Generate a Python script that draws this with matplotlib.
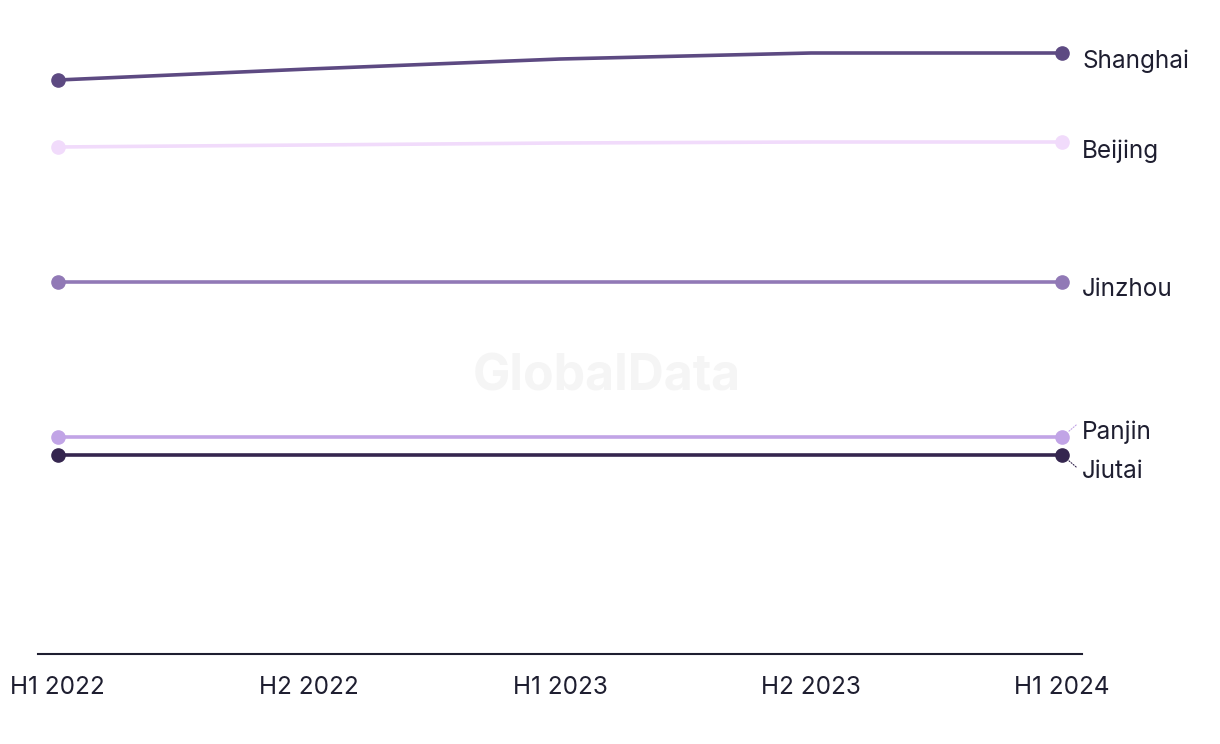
import matplotlib.pyplot as plt

periods = ['H1 2022', 'H2 2022', 'H1 2023', 'H2 2023', 'H1 2024']
cities = ['Shanghai', 'Beijing', 'Jinzhou', 'Panjin', 'Jiutai']
shanghai = [57.4, 58.5, 59.5, 60.1, 60.1]
beijing = [50.7, 50.9, 51.1, 51.2, 51.2]
jinzhou = [37.2, 37.2, 37.2, 37.2, 37.2]
panjin = [21.7, 21.7, 21.7, 21.7, 21.7]
jiutai = [19.9, 19.9, 19.9, 19.9, 19.9]
series = [shanghai, beijing, jinzhou, panjin, jiutai]

colors = ['#5d4a82', '#f1dbfb', '#9179b6', '#c1a4e6', '#35264f']
# label nudges in pixels (down is positive) so the close ones don't overlap
nudge = [8, 9, 7, -5, 17]

plt.rcParams['font.family'] = ['Inter', 'DejaVu Sans']
fig = plt.figure(figsize=(12.2, 7.44), dpi=100)
ax = fig.add_axes([38/1220, 90/744, 1044/1220, 630/744])

x = list(range(len(periods)))
for vals, c, name, dy in zip(series, colors, cities, nudge):
    ax.plot(x, vals, color=c, lw=2.6, solid_capstyle='round', zorder=3)
    ax.plot([x[0], x[-1]], [vals[0], vals[-1]], 'o', color=c, ms=9.5, zorder=4)
    ax.annotate(name, (x[-1], vals[-1]), xytext=(20, -dy), textcoords='offset pixels',
                ha='left', va='center', fontsize=17.5, color='#1e1e30')
    if abs(dy) > 10 or dy < 0:
        sign = -1 if dy > 0 else 1
        ax.annotate('', (x[-1], vals[-1]), xytext=(14, sign * 12), textcoords='offset pixels',
                    arrowprops=dict(arrowstyle='-', color=c, lw=0.8, ls=(0, (1, 1.5)),
                                    shrinkA=0, shrinkB=6))

ax.text(0.545, 0.44, 'GlobalData', transform=ax.transAxes, ha='center', va='center',
        fontsize=36, fontweight='bold', color='#f5f5f5', zorder=0)

ax.set_xlim(-0.079, 4.079)
ax.set_ylim(0, 63)
ax.set_xticks(x)
ax.set_xticklabels(periods, fontsize=17.5, color='#1e1e30')
ax.tick_params(axis='x', length=0, pad=16)
ax.set_yticks([])
for s in ['top', 'right', 'left']:
    ax.spines[s].set_visible(False)
ax.spines['bottom'].set_color('#1e1e30')
ax.spines['bottom'].set_linewidth(1.5)

fig.savefig('out.png', dpi=100)
